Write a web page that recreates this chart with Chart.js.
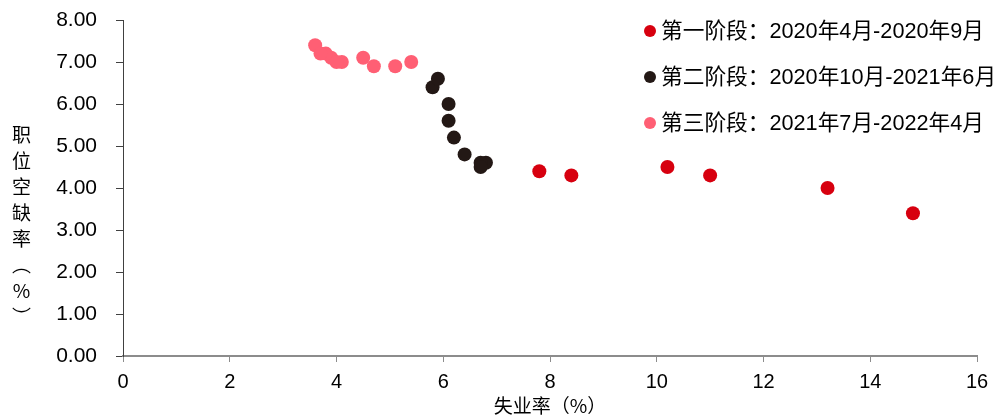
<!DOCTYPE html>
<html lang="zh">
<head>
    <meta charset="UTF-8">
    <title>职位空缺率与失业率</title>
    <script src="https://cdn.jsdelivr.net/npm/chart.js"></script>
    <style>
        body {
            margin: 0;
            background-color: #ffffff;
            font-family: "Liberation Sans", "Noto Sans CJK SC", sans-serif;
        }

        .wrap {
            position: relative;
            width: 998px;
            height: 415px;
        }

        canvas {
            position: absolute;
            left: 0;
            top: 0;
        }

        .y-title {
            position: absolute;
            left: 8px;
            top: 125px;
            writing-mode: vertical-rl;
            text-orientation: upright;
            font-size: 19px;
            letter-spacing: 7px;
            color: #000;
            font-family: "Noto Sans CJK SC", sans-serif;
        }

        .legend {
            position: absolute;
            left: 644px;
            top: 16px;
            color: #000;
            font-size: 21.7px;
            font-family: "Liberation Sans", "Noto Sans CJK SC", sans-serif;
        }

        .legend div {
            height: 46px;
            line-height: 30px;
            white-space: nowrap;
        }

        .legend span {
            display: inline-block;
            width: 12px;
            height: 12px;
            border-radius: 50%;
            margin-right: 5px;
            vertical-align: 1px;
        }
    </style>
</head>
<body>
    <div class="wrap">
        <canvas id="scatterChart" width="998" height="415"></canvas>
        <div class="y-title">职位空缺率（%）</div>
        <div class="legend" id="legend"></div>
    </div>

    <script>
        // 阶段名称与颜色
        const phaseNames = [
            '第一阶段：2020年4月-2020年9月',
            '第二阶段：2020年10月-2021年6月',
            '第三阶段：2021年7月-2022年4月'
        ];
        const phaseColors = ['#d7000f', '#231815', '#ff5f74'];

        // 失业率 (x) / 职位空缺率 (y)
        const phase1Unemp = [14.8, 13.2, 11.0, 10.2, 8.4, 7.8];
        const phase1Vacancy = [3.4, 4.0, 4.3, 4.5, 4.3, 4.4];

        const phase2Unemp = [6.8, 6.7, 6.7, 6.4, 6.2, 6.1, 6.1, 5.8, 5.9];
        const phase2Vacancy = [4.6, 4.6, 4.5, 4.8, 5.2, 5.6, 6.0, 6.4, 6.6];

        const phase3Unemp = [5.4, 5.1, 4.7, 4.5, 4.1, 3.9, 4.0, 3.8, 3.6, 3.7];
        const phase3Vacancy = [7.0, 6.9, 6.9, 7.1, 7.0, 7.1, 7.0, 7.2, 7.4, 7.2];

        const xTicks = [0, 2, 4, 6, 8, 10, 12, 14, 16];
        const yTicks = [0, 1, 2, 3, 4, 5, 6, 7, 8];

        function toPoints(xs, ys) {
            return xs.map((x, i) => ({ x: x, y: ys[i] }));
        }

        const seriesX = [phase1Unemp, phase2Unemp, phase3Unemp];
        const seriesY = [phase1Vacancy, phase2Vacancy, phase3Vacancy];

        const datasets = phaseNames.map((name, i) => ({
            label: name,
            data: toPoints(seriesX[i], seriesY[i]),
            backgroundColor: phaseColors[i],
            borderWidth: 0,
            pointRadius: 7,
            pointHoverRadius: 7
        }));

        // html legend
        const legendEl = document.getElementById('legend');
        phaseNames.forEach((name, i) => {
            const row = document.createElement('div');
            row.innerHTML = '<span style="background:' + phaseColors[i] + '"></span>' + name;
            legendEl.appendChild(row);
        });

        const fontFamily = '"Liberation Sans", "Noto Sans CJK SC", sans-serif';

        new Chart(document.getElementById('scatterChart'), {
            type: 'scatter',
            data: { datasets: datasets },
            options: {
                responsive: false,
                animation: false,
                layout: {
                    padding: { left: 0, right: 21, top: 20, bottom: 0 }
                },
                plugins: {
                    legend: { display: false },
                    tooltip: { enabled: false }
                },
                scales: {
                    x: {
                        type: 'linear',
                        min: 0,
                        max: 16,
                        afterBuildTicks: scale => {
                            scale.ticks = xTicks.map(v => ({ value: v }));
                        },
                        afterFit: scale => {
                            scale.height = 59;
                            scale.paddingLeft = 0;
                            scale.paddingRight = 0;
                        },
                        border: { color: '#8c8c8c', width: 2 },
                        grid: {
                            display: true,
                            drawOnChartArea: false,
                            drawTicks: true,
                            tickLength: 6,
                            color: '#8c8c8c'
                        },
                        ticks: {
                            color: '#000',
                            font: { family: fontFamily, size: 20 },
                            padding: 8,
                            maxRotation: 0
                        },
                        title: {
                            display: true,
                            text: '失业率（%）',
                            color: '#000',
                            font: { family: '"Noto Sans CJK SC", sans-serif', size: 19 },
                            padding: { top: 0, bottom: -2 }
                        }
                    },
                    y: {
                        type: 'linear',
                        min: 0,
                        max: 8,
                        afterBuildTicks: scale => {
                            scale.ticks = yTicks.map(v => ({ value: v }));
                        },
                        afterFit: scale => {
                            scale.width = 123;
                            scale.paddingTop = 0;
                            scale.paddingBottom = 0;
                        },
                        border: { color: '#404040', width: 1 },
                        grid: {
                            display: true,
                            drawOnChartArea: false,
                            drawTicks: true,
                            tickLength: 7,
                            color: '#404040'
                        },
                        ticks: {
                            color: '#000',
                            font: { family: fontFamily, size: 21 },
                            padding: 19,
                            callback: v => v.toFixed(2)
                        }
                    }
                }
            }
        });
    </script>
</body>
</html>
